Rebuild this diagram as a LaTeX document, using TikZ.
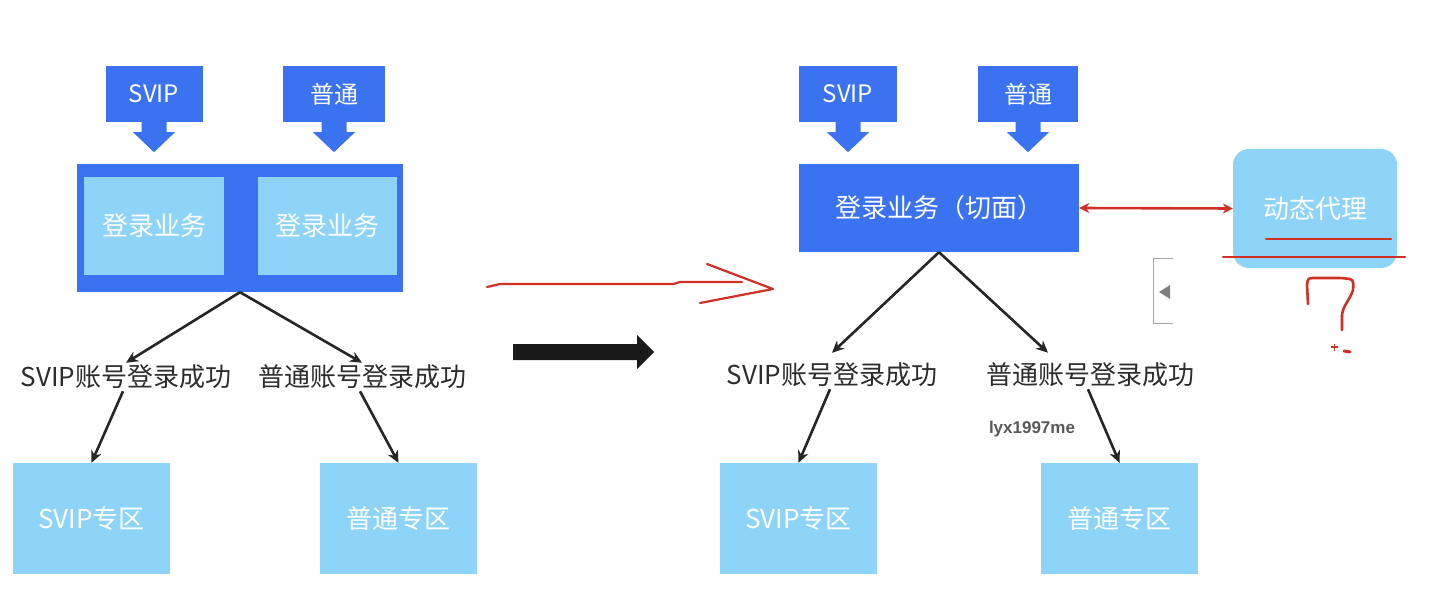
\documentclass[tikz,border=0pt]{standalone}
\usepackage{fontspec}
\setmainfont{Noto Sans CJK SC}
\newfontfamily\markfont{Liberation Sans}
\usetikzlibrary{arrows.meta,calc,positioning}
\definecolor{aopblue}{RGB}{59,114,242}
\definecolor{zoneblue}{RGB}{141,212,248}
\definecolor{penred}{RGB}{208,48,38}
\definecolor{labgray}{RGB}{45,45,45}
\newcommand{\blockarrow}[1]{\fill[aopblue] ($(#1.south)+(-12.5,-1)$) -- ($(#1.south)+(-12.5,10)$)
  -- ($(#1.south)+(-21,10)$) -- ($(#1.south)+(0,30)$) -- ($(#1.south)+(21,10)$)
  -- ($(#1.south)+(12.5,10)$) -- ($(#1.south)+(12.5,-1)$) -- cycle;}
\tikzset{
  userbox/.style={fill=aopblue,text=white,minimum width=97,minimum height=56,inner sep=0,
    font=\fontsize{24}{29}\selectfont},
  aspect/.style={fill=aopblue,text=white,inner sep=0},
  zone/.style={fill=zoneblue,text=white,minimum width=157,minimum height=111,inner sep=0},
  result/.style={text=labgray,inner sep=2},
  flow/.style={-{Stealth[length=12pt,width=11pt]},line width=2.6,black!85},
  pen/.style={penred,line width=2.2,line cap=round,line join=round}
}

\begin{document}
\begin{tikzpicture}[x=1pt,y=-1pt,font=\fontsize{26}{31}\selectfont]
\fill[white] (0,0) rectangle (1440,612);
\useasboundingbox (0,0) rectangle (1440,612);
% left: one login per user type
\node[userbox] (svipL) at (154,94) {SVIP};
\node[userbox,minimum width=102] (normL) at (334,94) {普通};
\node[aspect,minimum width=326,minimum height=128] (loginL) at (240,228) {};
\node[zone,minimum width=140,minimum height=98] (innerA) at (154,226) {登录业务};
\node[zone,minimum width=139,minimum height=98] (innerB) at (327.5,226) {登录业务};
\node[result] (okSvipL) at (126,377) {SVIP账号登录成功};
\node[result] (okNormL) at (362,377) {普通账号登录成功};
\node[zone] (zoneSvipL) at (91.5,518.5) {SVIP专区};
\node[zone] (zoneNormL) at (398.5,518.5) {普通专区};
\blockarrow{svipL}
\blockarrow{normL}
\draw[flow] (loginL.south) -- (okSvipL.north);
\draw[flow] (loginL.south) -- (okNormL.north);
\draw[flow] ($(okSvipL.south)+(-3,0)$) -- (zoneSvipL.north);
\draw[flow] ($(okNormL.south)+(-2,0)$) -- (zoneNormL.north);

% middle
\draw[pen] (487,287) -- (500,284) -- (673,284) -- (680,282) -- (742,282);
\draw[pen] (707,264) -- (773,289) -- (700,303);
\fill[black!90] (513,344) -- (637,344) -- (637,335) -- (654,352) -- (637,369) -- (637,360) -- (513,360) -- cycle;

% right: shared aspect
\node[userbox,minimum width=98] (svipR) at (848,94) {SVIP};
\node[userbox,minimum width=100] (normR) at (1028,94) {普通};
\node[aspect,minimum width=280,minimum height=88] (loginR) at (939,208) {登录业务（切面）\hspace{14pt}};
\node[result] (okSvipR) at (832,375) {SVIP账号登录成功};
\node[result] (okNormR) at (1090,375) {普通账号登录成功};
\node[zone] (zoneSvipR) at (798.5,518.5) {SVIP专区};
\node[zone] (zoneNormR) at (1119.5,518.5) {普通专区};
\node[fill=zoneblue,text=white,rounded corners=16,minimum width=164,minimum height=119,inner sep=0] (proxy) at (1315,208.5) {动态代理};
\node[text=black!65,font=\markfont\bfseries\fontsize{17}{20}\selectfont] (mark) at (1032,429) {lyx1997me};
\blockarrow{svipR}
\blockarrow{normR}
\draw[flow] (loginR.south) -- ($(okSvipR.north)+(0,-8)$);
\draw[flow] (loginR.south) -- ($(okNormR.north)+(-42,-8)$);
\draw[flow] ($(okSvipR.south)+(-2,0)$) -- (zoneSvipR.north);
\draw[flow] ($(okNormR.south)+(-2,0)$) -- (zoneNormR.north);
\draw[penred,line width=2.6,{Stealth[length=10pt,width=10pt]}-{Stealth[length=10pt,width=10pt]}] (loginR.east) -- (proxy.west);

% scribbles
\draw[pen] (1266,239) -- (1391,239);
\draw[pen] (1223,257) -- (1405,257);
\draw[pen,line width=2.6] (1308,304) -- (1307,285) .. controls (1308,278) .. (1315,278) -- (1340,278)
  .. controls (1354,279) .. (1353,290) .. controls (1350,300) and (1343,305) .. (1342,315) -- (1342,330);
\draw[penred,line width=1.2] (1331,347) -- (1338,347) (1334.5,343.5) -- (1334.5,350.5);
\draw[penred,line width=3,line cap=round] (1344,351) -- (1350,352);
\draw[gray!70,line width=1] (1173,259) -- (1153,259) -- (1153,323) -- (1173,323);
\fill[gray] (1159,292) -- (1170,285) -- (1170,299) -- cycle;
\end{tikzpicture}
\end{document}
